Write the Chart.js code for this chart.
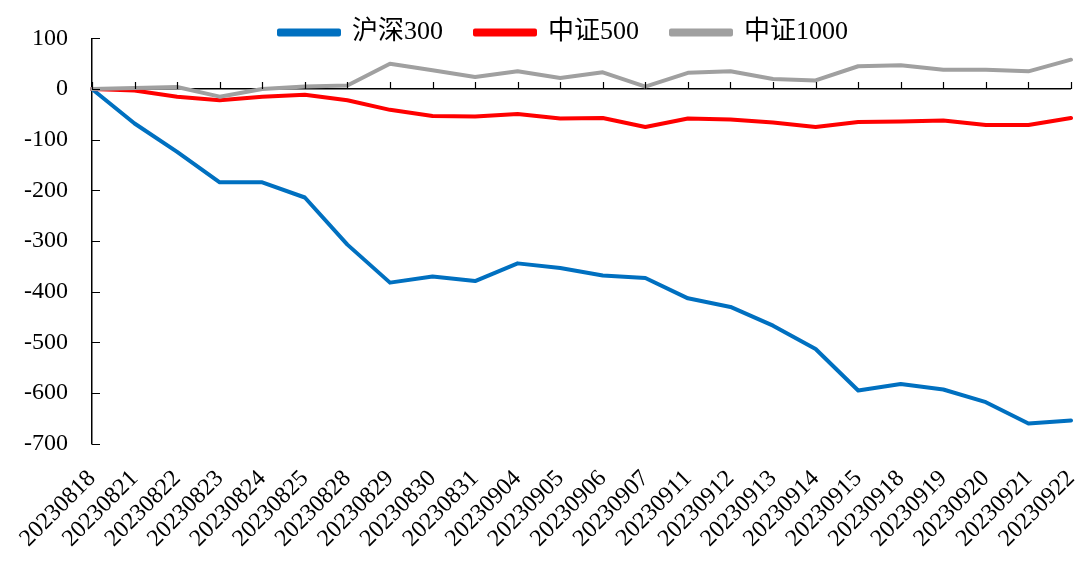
<!DOCTYPE html>
<html>
<head>
<meta charset="utf-8">
<script src="https://cdn.jsdelivr.net/npm/chart.js@4/dist/chart.umd.min.js"></script>
<style>
  body { margin: 0; background: #fff; }
</style>
</head>
<body>
<canvas id="myChart" width="1089" height="567"></canvas>
<script>
// Trading days on the category axis
const dates = ["20230818", "20230821", "20230822", "20230823", "20230824", "20230825",
  "20230828", "20230829", "20230830", "20230831", "20230904", "20230905", "20230906",
  "20230907", "20230911", "20230912", "20230913", "20230914", "20230915", "20230918",
  "20230919", "20230920", "20230921", "20230922"];

// Cumulative values per index
const hs300 = [0, -68, -124, -184, -184, -214, -307, -382, -370, -379, -344, -353,
  -368, -373, -413, -430, -467, -513, -595, -582, -593, -618, -660, -654];
const zz500 = [0, -3, -15, -22, -15, -11, -22, -41, -53, -54, -49, -58,
  -57, -75, -58, -60, -66, -75, -65, -64, -62, -71, -71, -57];
const zz1000 = [0, 2, 4, -15, 0, 5, 7, 50, 37, 24, 35, 22,
  33, 5, 32, 35, 20, 17, 45, 47, 38, 38, 35, 58];

const seriesNames = ["沪深300", "中证500", "中证1000"];
const yMin = -700, yMax = 100, yStep = 100;

const fontFamily = "'Liberation Serif', 'Noto Sans CJK SC', serif";

// Draws the short inward tick marks: on the zero line (x) and along the left axis (y)
const innerTicks = {
  id: "innerTicks",
  afterDatasetsDraw(chart) {
    const {ctx, scales: {x, y}} = chart;
    const zeroY = y.getPixelForValue(0);
    ctx.save();
    ctx.strokeStyle = "#000";
    ctx.lineWidth = 1.2;
    ctx.beginPath();
    x.ticks.forEach((t, i) => {
      const px = Math.round(x.getPixelForTick(i)) + 0.5;
      ctx.moveTo(px, zeroY);
      ctx.lineTo(px, zeroY - 7);
    });
    y.ticks.forEach((t, i) => {
      const py = Math.round(y.getPixelForTick(i)) + 0.5;
      ctx.moveTo(x.left, py);
      ctx.lineTo(x.left + 8, py);
    });
    ctx.stroke();
    ctx.restore();
  }
};

// Keep the legend short so it sits on top of the plot like the original,
// then give it room again after layout so its text is not clipped
const legendFit = {
  id: "legendFit",
  afterInit(chart) {
    const legend = chart.legend;
    const origFit = legend.fit;
    legend.fit = function () {
      origFit.call(this);
      this.height = 51;
    };
  },
  afterLayout(chart) {
    const legend = chart.legend;
    legend.bottom += 30;
    legend.height += 30;
    legend.left += 16;
    legend.right += 16;
  }
};

const ctx = document.getElementById("myChart").getContext("2d");

new Chart(ctx, {
  type: "line",
  data: {
    labels: dates,
    datasets: [
      { label: seriesNames[0], data: hs300, borderColor: "#0070C0", backgroundColor: "#0070C0", order: 3 },
      { label: seriesNames[1], data: zz500, borderColor: "#FF0000", backgroundColor: "#FF0000", order: 2 },
      { label: seriesNames[2], data: zz1000, borderColor: "#A0A0A0", backgroundColor: "#A0A0A0", order: 1 },
    ],
  },
  options: {
    responsive: false,
    animation: false,
    devicePixelRatio: 1,
    layout: { padding: { left: 24, right: 18, top: -14, bottom: -7 } },
    elements: {
      line: { borderWidth: 4, tension: 0, borderJoinStyle: "round", borderCapStyle: "round" },
      point: { radius: 0 },
    },
    plugins: {
      tooltip: { enabled: false },
      legend: {
        position: "top",
        labels: {
          boxWidth: 60,
          boxHeight: 4,
          padding: 32,
          color: "#000",
          font: { family: fontFamily, size: 26 },
          sort: (a, b) => a.datasetIndex - b.datasetIndex,
        },
      },
    },
    scales: {
      x: {
        type: "category",
        offset: false,
        grid: { display: false, drawTicks: false },
        border: { display: false },
        ticks: {
          autoSkip: false,
          minRotation: 45,
          maxRotation: 45,
          padding: 21,
          color: "#000",
          font: { family: fontFamily, size: 24 },
        },
        // rotated labels may hang past the plot edges, as in the original
        afterFit(scale) {
          scale.paddingLeft = 0;
          scale.paddingRight = 0;
        },
      },
      y: {
        min: yMin,
        max: yMax,
        grid: {
          drawTicks: false,
          color: (c) => (c.tick && c.tick.value === 0 ? "#000" : "rgba(0,0,0,0)"),
          lineWidth: 1.5,
        },
        border: { display: true, color: "#000", width: 1.5 },
        ticks: {
          stepSize: yStep,
          padding: 24,
          color: "#000",
          font: { family: fontFamily, size: 24 },
        },
        afterFit(scale) {
          scale.width = 68;
        },
      },
    },
  },
  plugins: [innerTicks, legendFit],
});
</script>
</body>
</html>
